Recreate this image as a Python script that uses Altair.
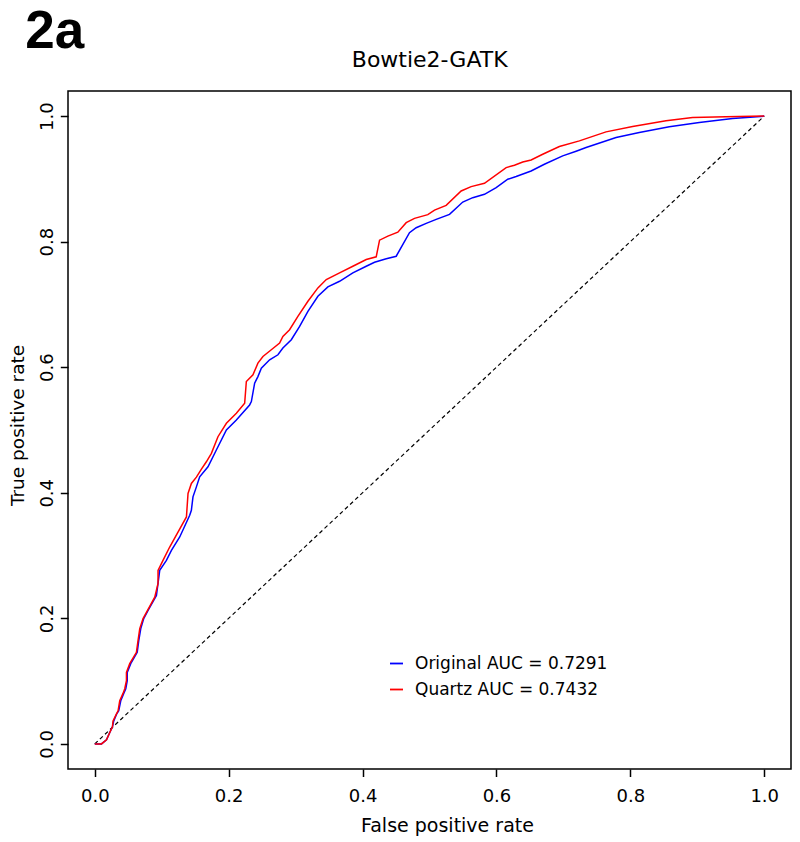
import altair as alt
import pandas as pd

# Quartz (red) ROC curve
quartz_fpr = [0, 0.0100, 0.0175, 0.0224, 0.0264, 0.0273, 0.0324, 0.0348, 0.0373, 0.0422,
              0.0448, 0.0473, 0.0473, 0.0522, 0.0622, 0.0646, 0.0672, 0.0721, 0.0796, 0.0896,
              0.0945, 0.0945, 0.1019, 0.1119, 0.1243, 0.1369, 0.1393, 0.1443, 0.1518, 0.1593,
              0.1667, 0.1742, 0.1840, 0.1966, 0.2115, 0.2239, 0.2264, 0.2363, 0.2437, 0.2512,
              0.2637, 0.2761, 0.2810, 0.2910, 0.3034, 0.3184, 0.3333, 0.3458, 0.3657, 0.3855,
              0.4055, 0.4204, 0.4254, 0.4378, 0.4527, 0.4652, 0.4776, 0.4975, 0.5075, 0.5249,
              0.5473, 0.5622, 0.5821, 0.6145, 0.6269, 0.6393, 0.6518, 0.6691, 0.6940, 0.7239,
              0.7637, 0.8034, 0.8533, 0.8930, 0.9428, 1.0]
quartz_tpr = [0, 0, 0.0064, 0.0181, 0.0272, 0.0367, 0.0479, 0.0527, 0.0687, 0.0804,
              0.0879, 0.1006, 0.1139, 0.1278, 0.1458, 0.1645, 0.1837, 0.1997, 0.2141, 0.2337,
              0.2556, 0.2764, 0.2923, 0.3136, 0.3375, 0.3615, 0.3989, 0.4149, 0.4249, 0.4377,
              0.4494, 0.4628, 0.4893, 0.5107, 0.5267, 0.5427, 0.5772, 0.5879, 0.6065, 0.6171,
              0.6278, 0.6385, 0.6490, 0.6597, 0.6810, 0.7050, 0.7264, 0.7396, 0.7503, 0.7609,
              0.7716, 0.7759, 0.8024, 0.8088, 0.8152, 0.8302, 0.8371, 0.8430, 0.8503, 0.8578,
              0.8807, 0.8877, 0.8930, 0.9180, 0.9217, 0.9270, 0.9302, 0.9393, 0.9516, 0.9605,
              0.9749, 0.9835, 0.9925, 0.9979, 0.9990, 1.0]

# Original (blue) ROC curve
orig_fpr = [0, 0.0100, 0.0175, 0.0224, 0.0264, 0.0284, 0.0328, 0.0358, 0.0388, 0.0433,
            0.0463, 0.0485, 0.0485, 0.0537, 0.0634, 0.0657, 0.0687, 0.0731, 0.0796, 0.0921,
            0.0970, 0.1070, 0.1145, 0.1269, 0.1418, 0.1443, 0.1467, 0.1518, 0.1567, 0.1691,
            0.1816, 0.1966, 0.2115, 0.2313, 0.2339, 0.2388, 0.2437, 0.2488, 0.2612, 0.2736,
            0.2810, 0.2936, 0.3060, 0.3184, 0.3333, 0.3482, 0.3657, 0.3855, 0.4055, 0.4179,
            0.4354, 0.4503, 0.4701, 0.4801, 0.4951, 0.5100, 0.5299, 0.5497, 0.5646, 0.5821,
            0.5996, 0.6169, 0.6294, 0.6518, 0.6716, 0.6990, 0.7190, 0.7339, 0.7787, 0.8134,
            0.8582, 0.9030, 0.9527, 1.0]
orig_tpr = [0, 0, 0.0064, 0.0181, 0.0272, 0.0367, 0.0479, 0.0527, 0.0687, 0.0804,
            0.0879, 0.1006, 0.1139, 0.1278, 0.1458, 0.1645, 0.1837, 0.1997, 0.2125, 0.2364,
            0.2764, 0.2923, 0.3083, 0.3296, 0.3642, 0.3722, 0.3935, 0.4094, 0.4254, 0.4414,
            0.4681, 0.5000, 0.5160, 0.5399, 0.5452, 0.5746, 0.5851, 0.5986, 0.6118, 0.6198,
            0.6305, 0.6438, 0.6650, 0.6890, 0.7130, 0.7280, 0.7369, 0.7503, 0.7609, 0.7672,
            0.7727, 0.7768, 0.8142, 0.8222, 0.8291, 0.8355, 0.8435, 0.8631, 0.8701, 0.8754,
            0.8861, 0.8994, 0.9037, 0.9126, 0.9233, 0.9366, 0.9441, 0.9500, 0.9660, 0.9740,
            0.9829, 0.9899, 0.9963, 1.0]

series_names = ["Original AUC = 0.7291", "Quartz AUC = 0.7432"]
series_colors = ["#0000FF", "#FF0000"]
diag_vals = [0.0, 1.0]
tick_vals = [0.0, 0.2, 0.4, 0.6, 0.8, 1.0]
panel_label = "2a"
plot_title = "Bowtie2-GATK"

rows = []
for i, (f, t) in enumerate(zip(orig_fpr, orig_tpr)):
    rows.append({"fpr": f, "tpr": t, "series": series_names[0], "idx": i})
for i, (f, t) in enumerate(zip(quartz_fpr, quartz_tpr)):
    rows.append({"fpr": f, "tpr": t, "series": series_names[1], "idx": i})
roc = pd.DataFrame(rows)
diag = pd.DataFrame({"fpr": diag_vals, "tpr": diag_vals})

FONT = "DejaVu Sans"
xscale = alt.Scale(domain=[-0.04, 1.04], nice=False, zero=False)
yscale = alt.Scale(domain=[-0.04, 1.04], nice=False, zero=False)

xaxis = alt.Axis(values=tick_vals, format=".1f", domain=False, grid=False,
                 tickSize=7.5, tickWidth=1.5, tickColor="black",
                 labelFont=FONT, labelFontSize=18, labelColor="black",
                 labelBaseline="alphabetic", labelPadding=25, labelFlush=False,
                 labelOverlap=False,
                 title="False positive rate", titleFont=FONT, titleFontSize=19,
                 titleFontWeight="normal", titleColor="black",
                 titleX=379, titleY=62, titleAlign="center", titleBaseline="alphabetic")
yaxis = alt.Axis(values=tick_vals, format=".1f", domain=False, grid=False,
                 tickSize=7.7, tickWidth=1.5, tickColor="black",
                 labelFont=FONT, labelFontSize=18, labelColor="black",
                 labelAngle=270, labelAlign="center", labelBaseline="alphabetic",
                 labelPadding=8.3, labelFlush=False, labelOverlap=False,
                 title="True positive rate", titleFont=FONT, titleFontSize=18.5,
                 titleFontWeight="normal", titleColor="black", titleAngle=270,
                 titleX=-45, titleY=334, titleAlign="center", titleBaseline="alphabetic")

diag_line = alt.Chart(diag).mark_line(color="black", strokeWidth=1.2, strokeDash=[4, 3]).encode(
    x=alt.X("fpr:Q", scale=xscale, axis=xaxis),
    y=alt.Y("tpr:Q", scale=yscale, axis=yaxis),
)

roc_lines = alt.Chart(roc).mark_line(strokeWidth=1.5).encode(
    x=alt.X("fpr:Q", scale=xscale),
    y=alt.Y("tpr:Q", scale=yscale),
    color=alt.Color("series:N",
                    scale=alt.Scale(domain=series_names, range=series_colors),
                    legend=alt.Legend(title=None, orient="none", legendX=320, legendY=564,
                                      symbolType="stroke", symbolSize=170,
                                      symbolStrokeWidth=1.8, labelFont=FONT,
                                      labelFontSize=17, labelColor="black", labelLimit=0,
                                      labelOffset=10, rowPadding=8, padding=0)),
    order=alt.Order("idx:Q"),
)

label_df = pd.DataFrame({"t": [panel_label]})
title_df = pd.DataFrame({"t": [plot_title]})

panel_text = alt.Chart(label_df).mark_text(
    font="Liberation Sans", fontWeight="bold", fontSize=53, align="left",
    baseline="alphabetic", color="black"
).encode(x=alt.value(-42.7), y=alt.value(-43), text="t:N")

title_text = alt.Chart(title_df).mark_text(
    font=FONT, fontSize=22, align="center", baseline="alphabetic", color="black"
).encode(x=alt.value(361.7), y=alt.value(-24), text="t:N")

chart = alt.layer(diag_line, roc_lines, panel_text, title_text).properties(
    width=723, height=678,
    autosize=alt.AutoSizeParams(type="none"),
    padding={"left": 60, "top": 83, "right": 1, "bottom": 72},
    background="white",
).configure_view(stroke="black", strokeWidth=1.5)

chart.save("out.html", embed_options={"renderer": "svg", "actions": False})
